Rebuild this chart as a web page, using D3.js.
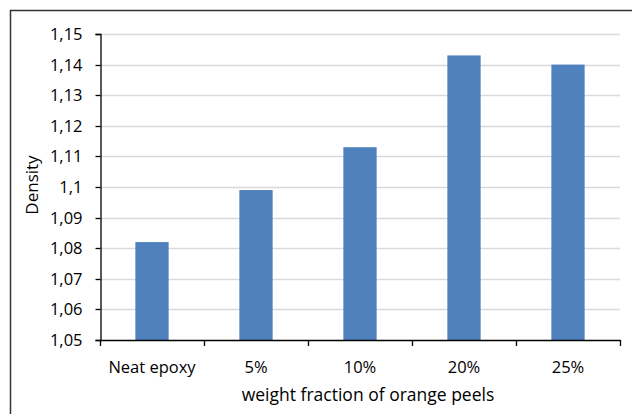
<!DOCTYPE html>
<html><head><meta charset="utf-8">
<script src="https://cdn.jsdelivr.net/npm/d3@7"></script>
<style>body{margin:0;background:#fff}svg{display:block}text{font-family:"Open Sans",sans-serif;fill:#000}</style>
</head><body><svg id="c" width="632" height="414"></svg>
<script>
const categories = ["Neat epoxy","5%","10%","20%","25%"];
const densities = [1.082,1.099,1.113,1.143,1.140];
const yTicks = [1.05,1.06,1.07,1.08,1.09,1.1,1.11,1.12,1.13,1.14,1.15];
const yTickLabels = ["1,05","1,06","1,07","1,08","1,09","1,1","1,11","1,12","1,13","1,14","1,15"];
const xTitle = "weight fraction of orange peels";
const yTitle = "Density";

const svg = d3.select("#c");
// outer frame
svg.append("rect").attr("x",10.5).attr("y",10.5).attr("width",700).attr("height",500)
  .attr("fill","none").attr("stroke","#333").attr("stroke-width",1.5);

const x = d3.scaleBand().domain(categories).range([100,620]).paddingInner(0.68).paddingOuter(0.34);
const y = d3.scaleLinear().domain([1.05,1.15]).range([340,34]);

// gridlines
svg.append("g").selectAll("line").data(yTicks.slice(1)).join("line")
  .attr("x1",100).attr("x2",620).attr("y1",d=>Math.round(y(d))+0.5).attr("y2",d=>Math.round(y(d))+0.5)
  .attr("stroke","#d9d9d9").attr("stroke-width",1.5);

// bars
svg.append("g").selectAll("rect").data(densities).join("rect")
  .attr("x",(d,i)=>x(categories[i])).attr("width",x.bandwidth())
  .attr("y",d=>y(d)).attr("height",d=>y(1.05)-y(d))
  .attr("fill","#4f81bd");

// y axis
const yAxis = d3.axisLeft(y).tickValues(yTicks).tickFormat((d,i)=>yTickLabels[i]).tickSize(5).tickPadding(13);
const gy = svg.append("g").attr("transform","translate(100.5,0)").call(yAxis);
gy.select(".domain").attr("stroke","#000").attr("stroke-width",1.3);
gy.selectAll(".tick line").attr("stroke","#000").attr("stroke-width",1.3);
gy.selectAll("text").style("font-size","16.5px").attr("fill","#000").style("font-family","'Open Sans',sans-serif");
gy.selectAll(".tick").attr("transform",d=>`translate(0,${Math.round(y(d))+0.5})`);

// x axis with ticks at band boundaries
const xAxisLine = svg.append("g");
xAxisLine.append("line").attr("x1",100).attr("x2",620.5).attr("y1",340.5).attr("y2",340.5).attr("stroke","#000").attr("stroke-width",1.3);
const bounds = categories.map(c=>x(c)-x.step()*x.paddingInner()/2).concat([620]);
xAxisLine.selectAll("line.t").data(bounds).join("line").attr("class","t")
  .attr("x1",d=>Math.round(d)+0.5).attr("x2",d=>Math.round(d)+0.5).attr("y1",340).attr("y2",346)
  .attr("stroke","#000").attr("stroke-width",1.3);
svg.append("g").selectAll("text").data(categories).join("text")
  .attr("x",d=>x(d)+x.bandwidth()/2).attr("y",373).attr("text-anchor","middle")
  .style("font-size","16.5px").text(d=>d);

// titles
svg.append("text").attr("x",368).attr("y",401).attr("text-anchor","middle").style("font-size","17.5px").text(xTitle);
svg.append("text").attr("transform","translate(38,185) rotate(-90)").attr("text-anchor","middle").style("font-size","17px").text(yTitle);
</script></body></html>
